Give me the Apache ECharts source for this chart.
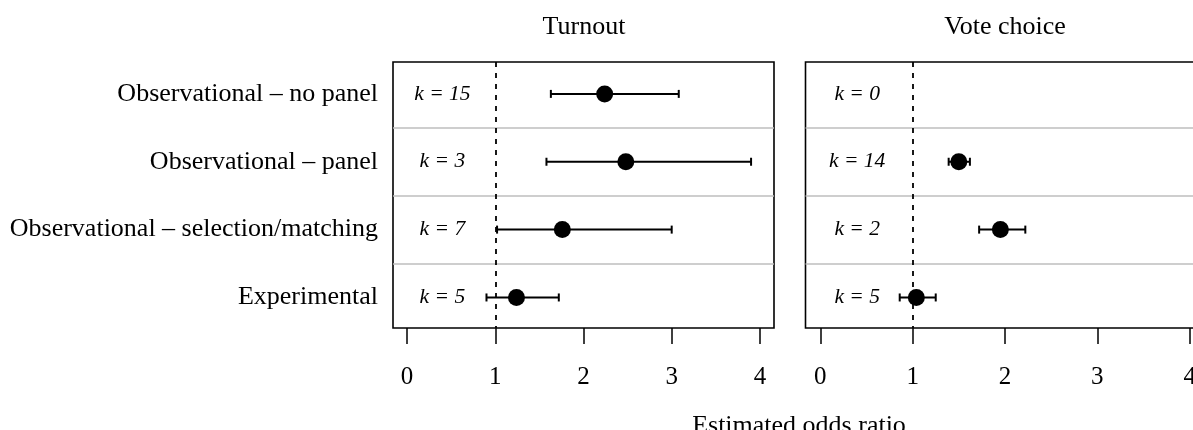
<!DOCTYPE html>
<html>
<head>
<meta charset="utf-8">
<script src="https://cdn.jsdelivr.net/npm/echarts@6/dist/echarts.min.js"></script>
<style>
  html, body { margin: 0; padding: 0; background: #fff; overflow: hidden; }
  /* the right-hand panel runs past the window edge, so the canvas is wider than the view */
  #chart { width: 1210px; height: 430px; }
</style>
</head>
<body>
<div id="chart"></div>
<script>
// Study designs, top to bottom
const categories = [
  'Observational – no panel',
  'Observational – panel',
  'Observational – selection/matching',
  'Experimental'
];
const panelTitles = ['Turnout', 'Vote choice'];
const axisTitle = 'Estimated odds ratio';
const xTicks = [0, 1, 2, 3, 4];

// Pooled odds ratios with interval bounds and number of studies (k)
const turnoutEst = [2.24, 2.48, 1.76, 1.24];
const turnoutLo  = [1.63, 1.58, 1.02, 0.90];
const turnoutHi  = [3.08, 3.90, 3.00, 1.72];
const turnoutK   = [15, 3, 7, 5];

const voteEst = [null, 1.50, 1.95, 1.04];
const voteLo  = [null, 1.39, 1.72, 0.86];
const voteHi  = [null, 1.62, 2.22, 1.25];
const voteK   = [0, 14, 2, 5];

const refValue = 1;      // no-effect line
const kLabelX = 0.4;     // where the study counts sit on the x scale

const FONT = '"Liberation Serif", "Times New Roman", serif';
const chart = echarts.init(document.getElementById('chart'));

const rows = categories.map((_, i) => i + 1);

function panelSeries(idx, est, lo, hi, ks) {
  const ebData = [], ptData = [], kData = [];
  rows.forEach((r, i) => {
    if (est[i] != null) {
      ebData.push([lo[i], hi[i], r]);
      ptData.push([est[i], r]);
    }
    kData.push([kLabelX, r, ks[i]]);
  });
  return [
    {
      type: 'custom',
      xAxisIndex: idx, yAxisIndex: idx,
      silent: true,
      data: ebData,
      encode: { x: [0, 1], y: 2 },
      renderItem: function (params, api) {
        const a = api.coord([api.value(0), api.value(2)]);
        const b = api.coord([api.value(1), api.value(2)]);
        const cap = 4;
        const style = { stroke: '#000', lineWidth: 2 };
        return {
          type: 'group',
          children: [
            { type: 'line', shape: { x1: a[0], y1: a[1], x2: b[0], y2: b[1] }, style },
            { type: 'line', shape: { x1: a[0], y1: a[1] - cap, x2: a[0], y2: a[1] + cap }, style },
            { type: 'line', shape: { x1: b[0], y1: b[1] - cap, x2: b[0], y2: b[1] + cap }, style }
          ]
        };
      },
      markLine: {
        silent: true,
        symbol: 'none',
        label: { show: false },
        data: [
          { yAxis: 1.5, lineStyle: { color: '#bebebe', type: 'solid', width: 1.5 } },
          { yAxis: 2.5, lineStyle: { color: '#bebebe', type: 'solid', width: 1.5 } },
          { yAxis: 3.5, lineStyle: { color: '#bebebe', type: 'solid', width: 1.5 } },
          { xAxis: refValue, lineStyle: { color: '#000', type: [5, 6], width: 1.8 } }
        ]
      },
      z: 3
    },
    {
      type: 'scatter',
      xAxisIndex: idx, yAxisIndex: idx,
      silent: true,
      data: ptData,
      symbol: 'circle',
      symbolSize: 17,
      itemStyle: { color: '#000', opacity: 1 },
      z: 4
    },
    {
      type: 'scatter',
      xAxisIndex: idx, yAxisIndex: idx,
      silent: true,
      data: kData,
      symbolSize: 0,
      itemStyle: { opacity: 1 },
      label: {
        show: true,
        position: 'inside',
        formatter: p => 'k = ' + p.value[2],
        fontFamily: FONT,
        fontStyle: 'italic',
        fontSize: 21.5,
        color: '#000'
      },
      z: 5
    }
  ];
}

const grids = [
  { left: 393, top: 62, width: 381, height: 266 },
  { left: 805.5, top: 62, width: 399, height: 266 }
];

const xAxes = grids.map((_, i) => ({
  type: 'value',
  gridIndex: i,
  min: -0.16,
  max: 4.16,
  axisLine: { show: false },
  splitLine: { show: false },
  axisTick: {
    show: true,
    customValues: xTicks,
    length: 16,
    lineStyle: { color: '#000', width: 1.5 }
  },
  axisLabel: {
    show: true,
    customValues: xTicks,
    margin: 37,
    fontFamily: FONT,
    fontSize: 25,
    color: '#000'
  }
}));

const yAxes = grids.map((_, i) => ({
  type: 'value',
  gridIndex: i,
  inverse: true,
  min: 0.53,
  max: 4.45,
  axisLine: { show: false },
  axisTick: { show: false },
  splitLine: { show: false },
  axisLabel: {
    show: i === 0,
    customValues: rows,
    formatter: v => categories[Math.round(v) - 1] || '',
    margin: 15,
    fontFamily: FONT,
    fontSize: 26,
    color: '#000'
  }
}));

function centeredText(text, x, y, size) {
  return {
    type: 'text', x: x, y: y, silent: true,
    style: { text: text, fontFamily: FONT, fontSize: size, fill: '#000', textAlign: 'center', textVerticalAlign: 'middle' }
  };
}

chart.setOption({
  animation: false,
  backgroundColor: '#fff',
  grid: grids.map(g => Object.assign({ show: true, borderColor: '#000', borderWidth: 1.6, backgroundColor: 'transparent' }, g)),
  xAxis: xAxes,
  yAxis: yAxes,
  series: [].concat(
    panelSeries(0, turnoutEst, turnoutLo, turnoutHi, turnoutK),
    panelSeries(1, voteEst, voteLo, voteHi, voteK)
  ),
  graphic: [
    centeredText(panelTitles[0], 584, 27, 26),
    centeredText(panelTitles[1], 1005, 27, 26),
    centeredText(axisTitle, 799, 426, 26)
  ]
});
</script>
</body>
</html>
